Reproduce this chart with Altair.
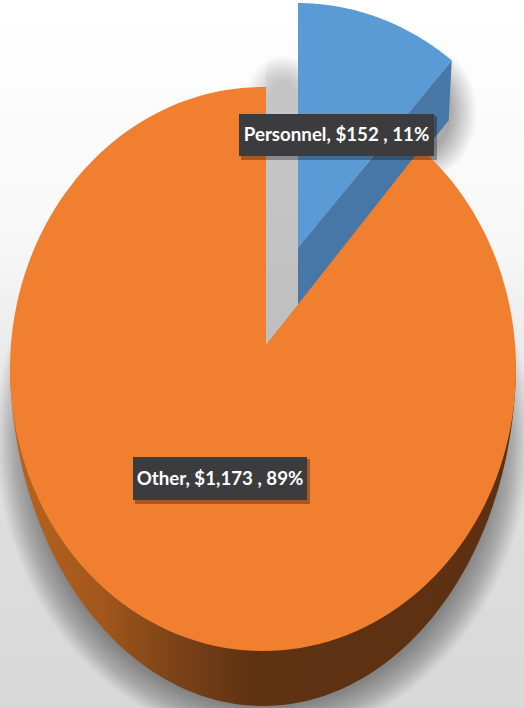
import math
import altair as alt

# Budget split shown on the pie
categories = ["Personnel", "Other"]
amounts = [152, 1173]
percents = [11, 89]

# Layout of the tilted pie, in page pixels
W, H = 524, 708
FACE = dict(cx=263, cy=369, rx=253, ry=282)
APEX = (266, 345)
RIM = dict(cx=263, cy=362, rx=253, ry=344)
BLUE_APEX = (298, 248)
BLUE_FACE = dict(cx=297, cy=271, rx=250, ry=268)
BLUE_DROP = 57


def ellipse_point(e, t):
    return (e["cx"] + e["rx"] * math.sin(t), e["cy"] - e["ry"] * math.cos(t))


def ray_hit(e, apex, theta):
    # Where the spoke at pie angle theta leaves the ellipse
    dx = e["rx"] * math.sin(theta)
    dy = -e["ry"] * math.cos(theta)
    ox, oy = apex[0] - e["cx"], apex[1] - e["cy"]
    a = (dx / e["rx"]) ** 2 + (dy / e["ry"]) ** 2
    b = 2 * (ox * dx / e["rx"] ** 2 + oy * dy / e["ry"] ** 2)
    c = (ox / e["rx"]) ** 2 + (oy / e["ry"]) ** 2 - 1
    s = (-b + math.sqrt(b * b - 4 * a * c)) / (2 * a)
    return (apex[0] + s * dx, apex[1] + s * dy)


def sector(e, apex, start, end, steps=160):
    pts = [apex]
    for i in range(steps + 1):
        pts.append(ray_hit(e, apex, start + (end - start) * i / steps))
    pts.append(apex)
    return pts


def feature(pts):
    ring = [[round(x, 2), round(y, 2)] for x, y in pts]
    if ring[0] != ring[-1]:
        ring.append(ring[0])
    return {"type": "Feature", "properties": {},
            "geometry": {"type": "Polygon", "coordinates": [ring]}}


def shape(features, fill, opacity=None):
    kw = {"fill": fill, "stroke": "transparent"}
    if opacity is not None:
        kw["fillOpacity"] = opacity
    return alt.Chart(alt.Data(values=features)).mark_geoshape(**kw).project(
        type="identity", scale=1, translate=[0, 0])


def ramp(stops, horizontal=True):
    return alt.Gradient(
        gradient="linear",
        stops=[alt.GradientStop(offset=o, color=c) for o, c in stops],
        x1=0, y1=0, x2=1 if horizontal else 0, y2=0 if horizontal else 1)


def halo(cx, cy, rx, ry, grow, step=1):
    # Concentric ellipses that build up a blurred edge when drawn faintly
    out = []
    for g in range(1, grow, step):
        e = dict(cx=cx, cy=cy, rx=rx + g, ry=ry + g)
        out.append(feature([ellipse_point(e, i * math.pi / 90) for i in range(180)]))
    return out


share = amounts[0] / sum(amounts) * 2 * math.pi
full = 2 * math.pi

# Top faces and sides
orange_face = sector(FACE, APEX, share, full)
blue_face = sector(BLUE_FACE, BLUE_APEX, 0, share)
blue_tip = blue_face[-2]
blue_side = [BLUE_APEX, blue_tip, (blue_tip[0] - 3, blue_tip[1] + 60),
             (BLUE_APEX[0], BLUE_APEX[1] + BLUE_DROP)]
rim_half = [ellipse_point(RIM, math.pi / 2 + math.pi * i / 200) for i in range(201)]
well = [APEX, (BLUE_APEX[0], BLUE_APEX[1] + BLUE_DROP),
        (BLUE_APEX[0], 60), (APEX[0], 60)]

# Soft shadows under the pie and the pulled-out slice
rim_shadow = halo(263, 436, 232, 270, 36)
blue_shadow = halo(418, 112, 32, 42, 28)
well_shadow = halo(283, 118, 16, 36, 28)

backdrop = alt.Chart(alt.Data(values=[{}])).mark_rect(
    fill=ramp([(0, "#ffffff"), (0.35, "#f7f7f7"), (0.62, "#e0e0e0"), (1, "#d8d8d8")], horizontal=False)
).encode(x=alt.value(0), x2=alt.value(W), y=alt.value(0), y2=alt.value(H))

side_fill = ramp([(0, "#b8641f"), (0.18, "#a2571c"), (0.32, "#7d4318"),
                  (0.48, "#5f3212"), (1, "#5c3011")])

label_text = [f"{c}, ${a:,} , {p}%" for c, a, p in zip(categories, amounts, percents)]
label_boxes = [dict(x=239, x2=434, y=114, y2=156), dict(x=133, x2=307, y=457, y2=500)]
rows = [dict(label=t, **b, xm=(b["x"] + b["x2"]) / 2, ym=(b["y"] + b["y2"]) / 2)
        for t, b in zip(label_text, label_boxes)]
rows_data = alt.Data(values=rows)
shadow_rows = alt.Data(values=[dict(x=r["x"] + 2, x2=r["x2"] + 3, y=r["y"] + 2, y2=r["y2"] + 4) for r in rows])

px = lambda f: alt.X(f"{f}:Q", scale=None)
py = lambda f: alt.Y(f"{f}:Q", scale=None)

box_shadow = alt.Chart(shadow_rows).mark_rect(fill="#000000", opacity=0.3).encode(
    x=px("x"), x2="x2:Q", y=py("y"), y2="y2:Q")
boxes = alt.Chart(rows_data).mark_rect(fill="#3c3c3e").encode(
    x=px("x"), x2="x2:Q", y=py("y"), y2="y2:Q")
texts = alt.Chart(rows_data).mark_text(
    font="Lato", fontSize=18.7, fontWeight="bold", color="#ffffff",
    align="center", baseline="middle"
).encode(x=px("xm"), y=py("ym"), text="label:N")

chart = alt.layer(
    backdrop,
    shape(rim_shadow, "#000000", 0.013),
    shape(blue_shadow, "#000000", 0.011),
    shape(well_shadow, "#000000", 0.009),
    shape([feature(well)], ramp([(0, "rgba(191,191,191,0)"), (0.2, "#c6c6c6"), (1, "#bfbfbf")], horizontal=False)),
    shape([feature(rim_half)], side_fill),
    shape([feature(blue_side)], "#4677a6"),
    shape([feature(blue_face)], "#5b9bd5"),
    shape([feature(orange_face)], "#f07f30"),
    box_shadow,
    boxes,
    texts,
).properties(width=W, height=H, padding=0, autosize=alt.AutoSizeParams(type="none"),
             background="#ffffff").configure_view(strokeWidth=0)

chart.save("out.html", embed_options={"renderer": "svg", "actions": False})
